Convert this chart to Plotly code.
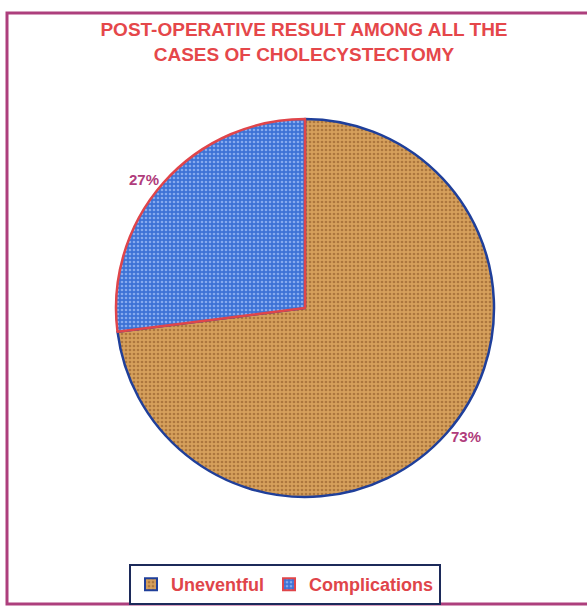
import plotly.graph_objects as go

labels = ["Uneventful", "Complications"]
values = [73, 27]
fill_colors = ["#d6a05c", "#3d72d6"]
grain_colors = ["#ad773e", "#86aaee"]
edge_colors = ["#1f3f9a", "#e0454a"]

W, H = 587, 608
FONT = "Liberation Sans, Arial"

fig = go.Figure(go.Pie(
    labels=labels,
    values=values,
    sort=False,
    direction="clockwise",
    rotation=0,
    texttemplate="<b>%{percent:.0%}</b>",
    textposition="outside",
    outsidetextfont=dict(family=FONT, size=15, color="#b03c7c"),
    marker=dict(
        colors=fill_colors,
        line=dict(color=edge_colors, width=2.5),
        pattern=dict(shape=".", fgcolor=grain_colors, bgcolor=fill_colors,
                     size=4, solidity=0.35, fillmode="replace"),
    ),
    domain=dict(x=[116 / W, 494 / W], y=[1 - 498 / H, 1 - 118 / H]),
    showlegend=True,
))

fig.update_layout(
    width=W, height=H,
    margin=dict(l=0, r=0, t=0, b=0),
    paper_bgcolor="white",
    plot_bgcolor="white",
    title=dict(
        text="<b>POST-OPERATIVE RESULT AMONG ALL THE<br>CASES OF CHOLECYSTECTOMY</b>",
        x=304 / W, xanchor="center",
        y=1 - 36 / H, yanchor="top",
        font=dict(family=FONT, size=19, color="#e5474a"),
    ),
    legend=dict(
        orientation="h",
        x=285 / W, xanchor="center",
        y=1 - 564 / H, yanchor="top",
        bordercolor="#1c2a5a", borderwidth=2,
        bgcolor="white",
        font=dict(family=FONT, size=18, color="#e0454a", weight="bold"),
        itemsizing="constant",
        itemwidth=30,
    ),
    shapes=[dict(
        type="rect", xref="paper", yref="paper",
        x0=7 / W, x1=1.02, y0=1 - 604 / H, y1=1 - 13 / H,
        line=dict(color="#ad3f7d", width=3),
    )],
)

fig.write_html("out.html")
